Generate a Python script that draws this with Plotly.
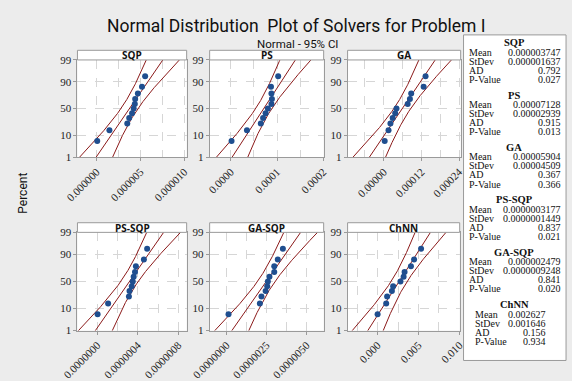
import plotly.graph_objects as go
from statistics import NormalDist
import numpy as np

W, H = 572, 381

# ---------------- data ----------------
panel_names = ["SQP", "PS", "GA", "PS-SQP", "GA-SQP", "ChNN"]
percent_positions = [6.1, 14.9, 23.7, 32.5, 41.2, 50.0, 58.8, 67.5, 76.3, 85.1, 93.9]
percent_ticks = [1, 10, 50, 90, 99]

sqp_values = [0.07e-6, 1.46e-6, 3.50e-6, 3.72e-6, 4.05e-6, 4.23e-6, 4.36e-6, 4.40e-6, 4.71e-6, 5.18e-6, 5.54e-6]
ps_values = [0.018e-4, 0.351e-4, 0.650e-4, 0.699e-4, 0.754e-4, 0.803e-4, 0.880e-4, 0.890e-4, 0.880e-4, 0.870e-4, 1.025e-4]
ga_values = [0.031e-4, 0.153e-4, 0.214e-4, 0.285e-4, 0.366e-4, 0.407e-4, 0.763e-4, 0.834e-4, 0.875e-4, 1.271e-4, 1.332e-4]
ps_sqp_values = [0.03e-7, 1.07e-7, 3.12e-7, 3.18e-7, 3.40e-7, 3.50e-7, 3.59e-7, 3.72e-7, 3.81e-7, 4.60e-7, 4.92e-7]
ga_sqp_values = [0.12e-6, 2.08e-6, 2.18e-6, 2.44e-6, 2.54e-6, 2.58e-6, 2.68e-6, 2.98e-6, 2.98e-6, 3.20e-6, 3.52e-6]
chnn_values = [0.000e-3, 1.047e-3, 1.163e-3, 1.744e-3, 1.899e-3, 2.791e-3, 3.178e-3, 3.295e-3, 4.070e-3, 4.457e-3, 5.310e-3]

means = [0.000003747, 0.00007128, 0.00005904, 0.0000003177, 0.000002479, 0.002627]
stdevs = [0.000001637, 0.00002939, 0.00004509, 0.0000001449, 0.0000009248, 0.001646]
mean_labels = ["0.000003747", "0.00007128", "0.00005904", "0.0000003177", "0.000002479", "0.002627"]
stdev_labels = ["0.000001637", "0.00002939", "0.00004509", "0.0000001449", "0.0000009248", "0.001646"]
ad_labels = ["0.792", "0.915", "0.367", "0.837", "0.841", "0.156"]
p_labels = ["0.027", "0.013", "0.366", "0.021", "0.020", "0.934"]

x_tick_step = [5e-6, 1e-4, 1.2e-4, 4e-7, 2.5e-6, 5e-3]
x_tick_format = [".6f", ".4f", ".5f", ".7f", ".7f", ".3f"]

all_values = [sqp_values, ps_values, ga_values, ps_sqp_values, ga_sqp_values, chnn_values]

# ---------------- layout geometry (pixels) ----------------
x_ranges = [[-2.19e-6, 10.28e-6], [-0.455e-4, 2.008e-4], [-1.15e-4, 2.45e-4],
            [-1.96e-7, 8.82e-7], [-1.06e-6, 6.07e-6], [-3.665e-3, 10.03e-3]]
col_px = [[(61, 175), (199, 318), (343, 461)], [(61, 175), (199, 318), (343, 460)]]
row_px = [(56, 157), (235, 337)]
strip_h = 10

nd = NormalDist()
def zq(p):
    return nd.inv_cdf(p)

def px_x(v):
    return v / W

def px_y(v):
    return 1 - v / H

LINE_C = "#8B1A1A"
DOT_C = "#1F4E8F"
GRID_C = "#D6D6D6"
BORDER_C = "#9A9A9A"
SERIF = "Liberation Serif"
SANS = "Roboto"

fig = go.Figure()
shapes = []
annotations = []

zgrid = np.linspace(-2.8, 2.8, 241)

for i, name in enumerate(panel_names):
    r, c = divmod(i, 3)
    k = i + 1
    xa = "x" if k == 1 else f"x{k}"
    ya = "y" if k == 1 else f"y{k}"
    vals = all_values[i]
    n = len(vals)
    m, s = means[i], stdevs[i]
    fit = m + zgrid * s
    half = 1.96 * s * np.sqrt((1 + zgrid ** 2 / 2) / n)
    for curve in (fit - half, fit, fit + half):
        fig.add_trace(go.Scatter(x=curve, y=zgrid, mode="lines", xaxis=xa, yaxis=ya,
                                 line=dict(color=LINE_C, width=1), showlegend=False,
                                 hoverinfo="skip"))
    fig.add_trace(go.Scatter(x=vals, y=[zq(p / 100) for p in percent_positions], mode="markers",
                             xaxis=xa, yaxis=ya, marker=dict(color=DOT_C, size=6),
                             showlegend=False))

    x0p, x1p = col_px[r][c]
    y0p, y1p = row_px[r]
    step = x_tick_step[i]
    fig.layout[f"xaxis{'' if k == 1 else k}"] = dict(
        domain=[px_x(x0p), px_x(x1p)], anchor=ya, range=x_ranges[i],
        tick0=0, dtick=step, tickformat=x_tick_format[i], tickangle=-45,
        showgrid=True, gridcolor=GRID_C, griddash="dash", gridwidth=1,
        minor=dict(dtick=step / 2, tick0=0, showgrid=True, gridcolor=GRID_C, griddash="dash"),
        showline=True, mirror=True, linecolor=BORDER_C, linewidth=1,
        ticks="outside", ticklen=3, tickcolor=BORDER_C, zeroline=False,
        tickfont=dict(family=SERIF, size=11, color="#222"))
    fig.layout[f"yaxis{'' if k == 1 else k}"] = dict(
        domain=[px_y(y1p), px_y(y0p)], anchor=xa, range=[zq(0.01), zq(0.99)],
        tickvals=[zq(p / 100) for p in percent_ticks], ticktext=[str(p) for p in percent_ticks],
        showgrid=True, gridcolor=GRID_C, griddash="dash", gridwidth=1,
        showline=True, mirror=True, linecolor=BORDER_C, linewidth=1,
        ticks="outside", ticklen=3, tickcolor=BORDER_C, zeroline=False,
        tickfont=dict(family=SERIF, size=11, color="#222"))

    # strip
    shapes.append(dict(type="rect", xref="paper", yref="paper",
                       x0=px_x(x0p), x1=px_x(x1p), y0=px_y(y0p), y1=px_y(y0p - strip_h),
                       fillcolor="white", line=dict(color=BORDER_C, width=1)))
    annotations.append(dict(text=f"<b>{name}</b>", xref="paper", yref="paper",
                            x=px_x((x0p + x1p) / 2), y=px_y(y0p - strip_h / 2),
                            xanchor="center", yanchor="middle", showarrow=False,
                            font=dict(family="Open Sans", size=10, color="#111")))

# titles
annotations.append(dict(text="Normal Distribution  Plot of Solvers for Problem I", xref="paper", yref="paper",
                        x=px_x(290), y=px_y(21), xanchor="center", yanchor="middle", showarrow=False,
                        font=dict(family=SANS, size=17.5, color="#111")))
annotations.append(dict(text="Normal - 95% CI", xref="paper", yref="paper",
                        x=px_x(291), y=px_y(39), xanchor="center", yanchor="middle", showarrow=False,
                        font=dict(family=SANS, size=11.5, color="#111")))
annotations.append(dict(text="Percent", xref="paper", yref="paper",
                        x=px_x(4), y=px_y(194), xanchor="center", yanchor="middle", showarrow=False,
                        textangle=-90, font=dict(family=SANS, size=12, color="#111")))

# stats panel
shapes.append(dict(type="rect", xref="paper", yref="paper",
                   x0=px_x(464), x1=px_x(571), y0=px_y(368), y1=px_y(30),
                   fillcolor="white", line=dict(color=BORDER_C, width=1)))
row_names = ["Mean", "StDev", "AD", "P-Value"]
for i, name in enumerate(panel_names):
    top = 38 + 54.4 * i
    lx, rx = (468, 568) if i < 5 else (474, 552)
    annotations.append(dict(text=f"<b>{name}</b>", xref="paper", yref="paper",
                            x=px_x(517), y=px_y(top), xanchor="center", yanchor="middle",
                            showarrow=False, font=dict(family=SERIF, size=10.5, color="#111")))
    row_vals = [mean_labels[i], stdev_labels[i], ad_labels[i], p_labels[i]]
    for j, (rn, rv) in enumerate(zip(row_names, row_vals)):
        yy = top + 9.8 + 9.4 * j
        annotations.append(dict(text=rn, xref="paper", yref="paper", x=px_x(lx), y=px_y(yy),
                                xanchor="left", yanchor="middle", showarrow=False,
                                font=dict(family=SERIF, size=10, color="#111")))
        annotations.append(dict(text=rv, xref="paper", yref="paper", x=px_x(rx), y=px_y(yy),
                                xanchor="right", yanchor="middle", showarrow=False,
                                font=dict(family=SERIF, size=10, color="#111")))

fig.update_layout(width=W, height=H, margin=dict(l=0, r=0, t=0, b=0),
                  paper_bgcolor="#ECECEC", plot_bgcolor="white",
                  shapes=shapes, annotations=annotations, showlegend=False)

fig.write_html("out.html", config={"displayModeBar": False},
               post_script="document.body.style.margin='0px';document.body.style.padding='0px';")
